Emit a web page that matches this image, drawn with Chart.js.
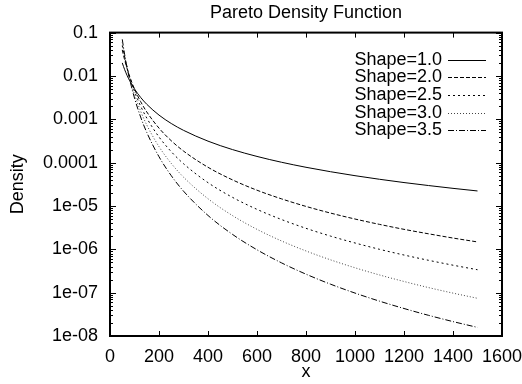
<!DOCTYPE html>
<html>
<head>
<meta charset="utf-8">
<script src="https://cdn.jsdelivr.net/npm/chart.js@4"></script>
<style>
  html, body { margin: 0; padding: 0; background: #fff; }
  #wrap { width: 522px; height: 384px; }
</style>
</head>
<body>
<div id="wrap"><canvas id="chart"></canvas></div>
<script>
// x positions where the curves were read
const xValues = [50, 60, 70, 80, 100, 125, 150, 200, 250, 300, 400, 500, 600, 700, 800, 900, 1000, 1100, 1200, 1300, 1400, 1500];

const shapeLabels = ['Shape=1.0', 'Shape=2.0', 'Shape=2.5', 'Shape=3.0', 'Shape=3.5'];

const shape10 = [0.02, 0.0139, 0.0102, 0.0078, 0.005, 0.0032, 0.00222, 0.00125, 0.0008, 0.000556, 0.000313, 0.0002, 0.000139, 0.000102, 7.81e-5, 6.17e-5, 5e-5, 4.13e-5, 3.47e-5, 2.96e-5, 2.55e-5, 2.22e-5];
const shape20 = [0.04, 0.0232, 0.0146, 0.0098, 0.005, 0.00256, 0.00148, 0.000625, 0.00032, 0.000185, 7.81e-5, 4e-5, 2.31e-5, 1.46e-5, 9.77e-6, 6.86e-6, 5e-6, 3.76e-6, 2.89e-6, 2.28e-6, 1.82e-6, 1.48e-6];
const shape25 = [0.05, 0.0264, 0.0154, 0.00965, 0.00442, 0.00202, 0.00107, 0.000391, 0.000179, 9.45e-5, 3.45e-5, 1.58e-5, 8.35e-6, 4.87e-6, 3.05e-6, 2.02e-6, 1.4e-6, 1e-6, 7.38e-7, 5.58e-7, 4.3e-7, 3.38e-7];
const shape30 = [0.06, 0.0289, 0.0156, 0.00916, 0.00375, 0.00154, 0.000741, 0.000234, 9.6e-5, 4.63e-5, 1.47e-5, 6e-6, 2.89e-6, 1.56e-6, 9.16e-7, 5.72e-7, 3.75e-7, 2.56e-7, 1.81e-7, 1.31e-7, 9.76e-8, 7.41e-8];
const shape35 = [0.07, 0.0308, 0.0154, 0.00844, 0.00309, 0.00113, 0.000499, 0.000137, 5.01e-5, 2.2e-5, 6.04e-6, 2.21e-6, 9.75e-7, 4.87e-7, 2.67e-7, 1.57e-7, 9.78e-8, 6.37e-8, 4.31e-8, 3e-8, 2.15e-8, 1.58e-8];

const xTicks = [0, 200, 400, 600, 800, 1000, 1200, 1400, 1600];
const yTicks = [1e-8, 1e-7, 1e-6, 1e-5, 1e-4, 1e-3, 1e-2, 1e-1];
const yTickLabels = ['1e-08', '1e-07', '1e-06', '1e-05', '0.0001', '0.001', '0.01', '0.1'];

const FONT = { family: '"Liberation Sans", Arial, sans-serif', size: 18 };

const seriesValues = [shape10, shape20, shape25, shape30, shape35];
const dashes = [[], [4, 2], [2, 3], [1, 2], [6, 2, 1, 2]];
const colors = ['#000', '#000', '#000', '#444', '#000'];

const datasets = seriesValues.map((vals, i) => ({
  label: shapeLabels[i],
  data: xValues.map((x, j) => ({ x: x, y: vals[j] })),
  borderColor: colors[i],
  borderWidth: 1,
  borderDash: dashes[i],
  pointRadius: 0,
  fill: false,
  cubicInterpolationMode: 'monotone'
}));

// gnuplot style: border box, inward ticks, mirrored on top/right
const frame = {
  id: 'frame',
  afterDatasetsDraw(chart) {
    const { ctx, chartArea: a, scales: { x, y } } = chart;
    ctx.save();
    ctx.strokeStyle = '#000';
    ctx.lineWidth = 1;
    ctx.beginPath();
    xTicks.forEach(v => {
      const px = Math.round(x.getPixelForValue(v)) + 0.5;
      ctx.moveTo(px, a.bottom); ctx.lineTo(px, a.bottom - 5);
      ctx.moveTo(px, a.top); ctx.lineTo(px, a.top + 5);
    });
    yTicks.forEach((v, i) => {
      for (let m = 1; m < 10; m++) {
        if (i === yTicks.length - 1 && m > 1) break;
        const py = Math.round(y.getPixelForValue(v * m)) + 0.5;
        const len = m === 1 ? 6 : 3;
        ctx.moveTo(a.left, py); ctx.lineTo(a.left + len, py);
        ctx.moveTo(a.right, py); ctx.lineTo(a.right - len, py);
      }
    });
    ctx.stroke();
    ctx.lineWidth = 2;
    ctx.strokeRect(a.left, a.top, a.right - a.left, a.bottom - a.top);

    // legend inside the plot, text right-aligned, sample to the right
    ctx.font = FONT.size + 'px ' + FONT.family;
    ctx.fillStyle = '#000';
    ctx.textAlign = 'right';
    ctx.textBaseline = 'middle';
    const textRight = a.right - 60;
    chart.data.datasets.forEach((ds, i) => {
      const ty = a.top + 27 + i * 17.7;
      ctx.fillText(ds.label, textRight, ty);
      ctx.save();
      ctx.strokeStyle = ds.borderColor;
      ctx.lineWidth = 1;
      ctx.setLineDash(ds.borderDash);
      ctx.beginPath();
      ctx.moveTo(textRight + 6, Math.round(ty) + 0.5);
      ctx.lineTo(textRight + 44, Math.round(ty) + 0.5);
      ctx.stroke();
      ctx.restore();
    });
    ctx.restore();
  }
};

new Chart(document.getElementById('chart').getContext('2d'), {
  type: 'line',
  data: { datasets: datasets },
  plugins: [frame],
  options: {
    responsive: true,
    maintainAspectRatio: false,
    animation: false,
    layout: { padding: 0 },
    plugins: {
      legend: { display: false },
      tooltip: { enabled: false },
      title: {
        display: true,
        fullSize: false,
        text: 'Pareto Density Function',
        color: '#000',
        font: { family: FONT.family, size: 18, weight: 'normal' },
        padding: { top: 2, bottom: 9 }
      }
    },
    scales: {
      x: {
        type: 'linear',
        min: 0,
        max: 1600,
        grid: { display: false, drawTicks: false },
        border: { display: false },
        afterBuildTicks: s => { s.ticks = xTicks.map(v => ({ value: v })); },
        afterFit: s => { s.height = 48; s.paddingRight = 20; s.paddingLeft = 0; },
        ticks: {
          color: '#000', font: FONT, padding: 10, autoSkip: false, maxRotation: 0,
          callback: v => String(v)
        },
        title: { display: true, text: 'x', color: '#000', font: FONT, padding: { top: 0, bottom: 1 } }
      },
      y: {
        type: 'logarithmic',
        min: 1e-8,
        max: 0.1,
        grid: { display: false, drawTicks: false },
        border: { display: false },
        afterBuildTicks: s => { s.ticks = yTicks.map(v => ({ value: v })); },
        afterFit: s => { s.width = 110; },
        ticks: {
          color: '#000', font: FONT, padding: 12, autoSkip: false,
          callback: (v, i) => yTickLabels[i]
        },
        title: { display: true, text: 'Density', color: '#000', font: FONT, padding: { top: 7, bottom: 0 } }
      }
    }
  }
});
</script>
</body>
</html>
